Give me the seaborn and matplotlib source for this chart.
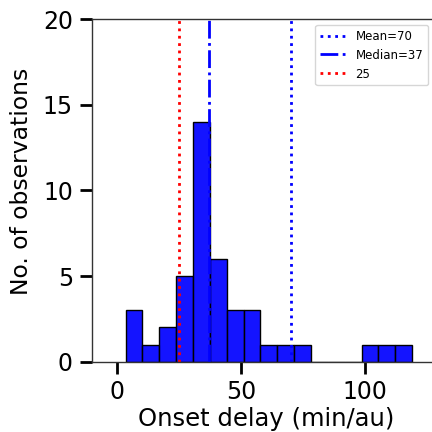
import numpy as np
import pandas as pd
import matplotlib
matplotlib.use("Agg")
import matplotlib.pyplot as plt
import seaborn as sns

# Histogram: bin range and counts per bin
bin_start = 3.6
bin_end = 118.9
counts = [3, 1, 2, 5, 14, 6, 3, 3, 1, 1, 1, 0, 0, 0, 1, 1, 1]
mean_val = 70
median_val = 37
ref_val = 25
xticks = [0, 50, 100]
yticks = [0, 5, 10, 15, 20]

n_bins = len(counts)
width = (bin_end - bin_start) / n_bins
centers = [bin_start + width * (i + 0.5) for i in range(n_bins)]
df = pd.DataFrame({"delay": centers, "n": counts})

sns.set_style("ticks")
plt.rcParams['font.family'] = ['DejaVu Sans']
plt.rcParams['text.color'] = 'black'
plt.rcParams['axes.labelcolor'] = 'black'
plt.rcParams['xtick.color'] = 'black'
plt.rcParams['ytick.color'] = 'black'

fig = plt.figure(figsize=(4.32, 4.32), dpi=100)
ax = fig.add_axes([91.7 / 432, (432 - 361.7) / 432, 348 / 432, (361.7 - 19.3) / 432])

sns.histplot(data=df, x="delay", weights="n", bins=n_bins, binrange=(bin_start, bin_end),
             color="#0000ff", alpha=0.92, edgecolor="black", linewidth=1, ax=ax)

ax.axvline(mean_val, color="blue", linestyle=":", linewidth=2, label=f"Mean={mean_val}")
ax.axvline(median_val, color="blue", linestyle="-.", linewidth=2, label=f"Median={median_val}")
ax.axvline(ref_val, color="red", linestyle=":", linewidth=2, label=f"{ref_val}")

ax.set_xlim(-10, 130)
ax.set_ylim(0, 20)
ax.set_xticks(xticks)
ax.set_yticks(yticks)
ax.tick_params(axis="both", labelsize=17, length=8.5, width=2, direction="out", pad=5)
ax.set_xlabel("Onset delay (min/au)", fontsize=17.5, labelpad=2)
ax.set_ylabel("No. of observations", fontsize=16.9)
ax.yaxis.set_label_coords(-0.168, 0.526)
for s in ax.spines.values():
    s.set_linewidth(1)
    s.set_color("#333333")

leg = ax.legend(loc="upper right", bbox_to_anchor=(428 / 432, (432 - 25) / 432),
                bbox_transform=fig.transFigure, fontsize=8.5, frameon=True,
                borderaxespad=0, handlelength=2.2)

fig.savefig("out.png", dpi=100)
